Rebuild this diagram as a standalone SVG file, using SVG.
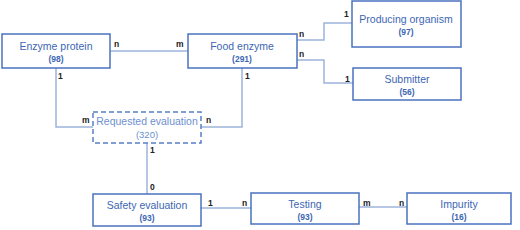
<svg xmlns="http://www.w3.org/2000/svg" width="520" height="230" viewBox="0 0 520 230">
<style>
.box{fill:#fff;stroke:#4a72bf;stroke-width:1.5}
.dbox{fill:#fff;stroke:#5a80c8;stroke-width:1.5;stroke-dasharray:5 3}
.t{font-family:"Liberation Sans",Arial,sans-serif;font-size:10.5px;fill:#3d66b3;text-anchor:middle}
.n{font-family:"Liberation Sans",Arial,sans-serif;font-size:8.5px;font-weight:bold;fill:#3d66b3;text-anchor:middle}
.lt{fill:#6d8fcf}
.ln{font-family:"Liberation Sans",Arial,sans-serif;font-size:9.5px;fill:#6d8fcf;text-anchor:middle}
.c{fill:none;stroke:#9db4dc;stroke-width:1.5}
.lab{font-family:"Liberation Sans",Arial,sans-serif;font-size:8.5px;fill:#222;font-weight:bold}
</style>
<rect width="520" height="230" fill="#fff"/>
<g id="connectors">
<path class="c" d="M110 51H188"/>
<path class="c" d="M297 40H324V23H352"/>
<path class="c" d="M297 60H324V83H353"/>
<path class="c" d="M56 68V127H93"/>
<path class="c" d="M242 68V127H201"/>
<path class="c" d="M147 143V194"/>
<path class="c" d="M201 208H251"/>
<path class="c" d="M359 207H407"/>
<text class="lab" x="114" y="47">n</text>
<text class="lab" x="176" y="47">m</text>
<text class="lab" x="299" y="37">n</text>
<text class="lab" x="344" y="17">1</text>
<text class="lab" x="299" y="57">n</text>
<text class="lab" x="345" y="82">1</text>
<text class="lab" x="58" y="79">1</text>
<text class="lab" x="245" y="79">1</text>
<text class="lab" x="82" y="123">m</text>
<text class="lab" x="206" y="123">n</text>
<text class="lab" x="150" y="153">1</text>
<text class="lab" x="150" y="190">0</text>
<text class="lab" x="208" y="206">1</text>
<text class="lab" x="242" y="206">n</text>
<text class="lab" x="363" y="206">m</text>
<text class="lab" x="399" y="206">n</text>
</g>
<g id="enzyme-protein">
<rect class="box" x="2" y="34" width="108" height="34"/>
<text class="t" x="56" y="50">Enzyme protein</text>
<text class="n" x="56" y="62">(98)</text>
</g>
<g id="food-enzyme">
<rect class="box" x="188" y="34" width="109" height="34"/>
<text class="t" x="242" y="50">Food enzyme</text>
<text class="n" x="242" y="62">(291)</text>
</g>
<g id="producing-organism">
<rect class="box" x="352" y="1" width="109" height="46"/>
<text class="t" x="406" y="23">Producing organism</text>
<text class="n" x="406" y="35">(97)</text>
</g>
<g id="submitter">
<rect class="box" x="353" y="68" width="108" height="32"/>
<text class="t" x="407" y="83">Submitter</text>
<text class="n" x="407" y="95">(56)</text>
</g>
<g id="requested-evaluation">
<rect class="dbox" x="93" y="112" width="108" height="31"/>
<text class="t lt" x="147" y="125">Requested evaluation</text>
<text class="ln" x="147" y="138">(320)</text>
</g>
<g id="safety-evaluation">
<rect class="box" x="93" y="194" width="108" height="32"/>
<text class="t" x="147" y="209">Safety evaluation</text>
<text class="n" x="147" y="221">(93)</text>
</g>
<g id="testing">
<rect class="box" x="251" y="193" width="108" height="31"/>
<text class="t" x="305" y="208">Testing</text>
<text class="n" x="305" y="220">(93)</text>
</g>
<g id="impurity">
<rect class="box" x="407" y="193" width="104" height="31"/>
<text class="t" x="459" y="208">Impurity</text>
<text class="n" x="459" y="220">(16)</text>
</g>
</svg>
